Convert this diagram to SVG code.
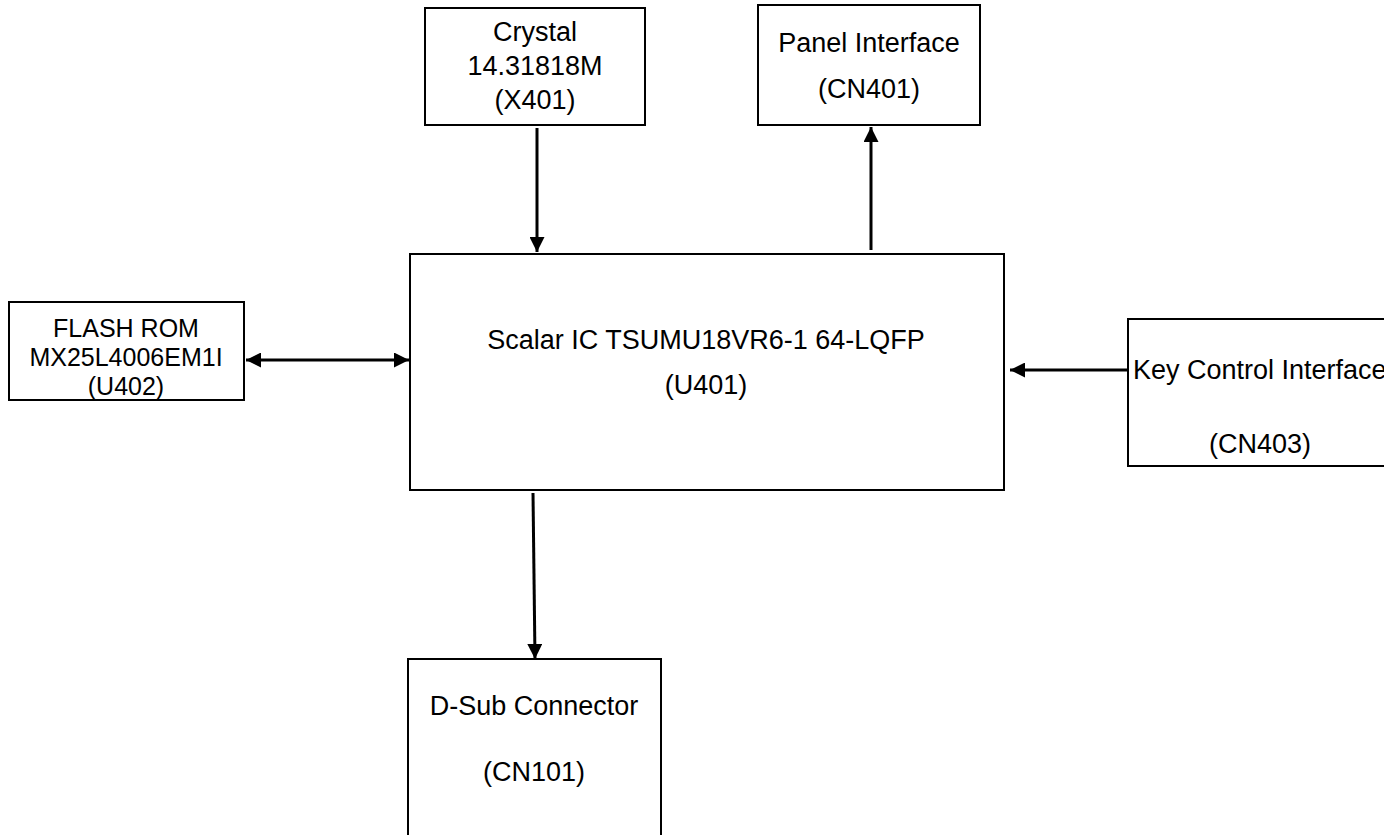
<svg xmlns="http://www.w3.org/2000/svg" width="1384" height="835" viewBox="0 0 1384 835">
<defs>
<style>
.box{fill:#fff;stroke:#000;stroke-width:2}
.t{font-family:"Liberation Sans",Arial,sans-serif;font-size:27px;fill:#000;text-anchor:middle}
.s{font-size:25px}
.c{stroke:#000;stroke-width:3;fill:none}
</style>
<marker id="ah" markerWidth="5" markerHeight="5" refX="5" refY="2.5" orient="auto-start-reverse" markerUnits="strokeWidth">
<path d="M0,0 L5,2.5 L0,5 Z" fill="#000"/>
</marker>
</defs>
<rect width="1384" height="835" fill="#fff"/>
<g id="crystal">
<rect class="box" x="425" y="8" width="220" height="117"/>
<text class="t" x="535" y="41">Crystal</text>
<text class="t" x="535" y="75">14.31818M</text>
<text class="t" x="535" y="109">(X401)</text>
</g>
<g id="panel">
<rect class="box" x="758" y="5" width="222" height="120"/>
<text class="t" x="869" y="52">Panel Interface</text>
<text class="t" x="869" y="98">(CN401)</text>
</g>
<g id="scalar">
<rect class="box" x="410" y="254" width="594" height="236"/>
<text class="t" x="706" y="349">Scalar IC TSUMU18VR6-1 64-LQFP</text>
<text class="t" x="706" y="394">(U401)</text>
</g>
<g id="flash">
<rect class="box" x="9" y="302" width="235" height="98"/>
<text class="t s" x="126" y="337">FLASH ROM</text>
<text class="t s" x="126" y="366">MX25L4006EM1I</text>
<text class="t s" x="126" y="395">(U402)</text>
</g>
<g id="key">
<rect class="box" x="1128" y="319" width="270" height="147"/>
<text class="t" x="1133" y="379" style="text-anchor:start">Key Control Interface</text>
<text class="t" x="1260" y="453">(CN403)</text>
</g>
<g id="dsub">
<rect class="box" x="408" y="659" width="253" height="200"/>
<text class="t" x="534" y="715">D-Sub Connector</text>
<text class="t" x="534" y="781">(CN101)</text>
</g>
<g id="connectors">
<line class="c" x1="537" y1="128" x2="537" y2="252" marker-end="url(#ah)"/>
<line class="c" x1="871" y1="250" x2="871" y2="127" marker-end="url(#ah)"/>
<line class="c" x1="246" y1="360" x2="409" y2="360" marker-start="url(#ah)" marker-end="url(#ah)"/>
<line class="c" x1="1128" y1="370" x2="1010" y2="370" marker-end="url(#ah)"/>
<line class="c" x1="533" y1="493" x2="535" y2="659" marker-end="url(#ah)"/>
</g>
</svg>
